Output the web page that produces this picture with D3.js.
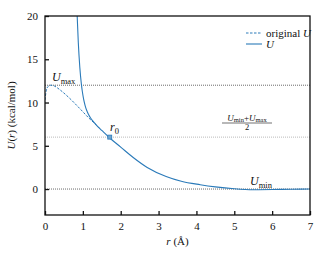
<!DOCTYPE html>
<html><head><meta charset="utf-8">
<script src="https://cdn.jsdelivr.net/npm/d3@7"></script>
<style>
body{margin:0;background:#fff;}
text{font-family:"Liberation Serif","DejaVu Serif",serif;fill:#111;}
</style></head>
<body><svg id="c" width="325" height="260"></svg>
<script>
// data
const origR = [0, 0.03, 0.08, 0.15, 0.25, 0.4, 0.66, 0.92, 1.19, 1.3, 1.45];
const origU = [10.3, 11.3, 11.85, 12.0, 11.9, 11.45, 10.45, 9.3, 8.07, 7.63, 6.98];
const uR = [0.85, 0.88, 0.92, 0.96, 0.985, 1.02, 1.06, 1.1, 1.15, 1.2, 1.25, 1.3, 1.4, 1.5, 1.71, 2.0, 2.33, 2.7, 3.2, 3.6, 4.1, 4.5, 5.0, 5.5, 6.0, 6.5, 7.0];
const uU = [20, 16.9, 14.05, 12.15, 11.3, 10.4, 9.65, 9.1, 8.62, 8.24, 7.94, 7.67, 7.19, 6.77, 5.9, 4.85, 3.65, 2.5, 1.45, 0.9, 0.5, 0.25, 0.03, -0.08, -0.06, -0.02, 0];
const Umax = 12, Umin = 0, r0 = 1.71;
const xTicks = [0,1,2,3,4,5,6,7];
const yTicks = [0,5,10,15,20];

const svg = d3.select("#c");
const L=45, R=310, T=16, B=215;
const x = d3.scaleLinear().domain([0,7]).range([L,R]);
const y = d3.scaleLinear().domain([-3,20]).range([B,T]);
const blue = "#2a7ab9";

svg.append("defs").append("clipPath").attr("id","cp")
  .append("rect").attr("x",L).attr("y",T).attr("width",R-L).attr("height",B-T);

// reference lines
const mid = (Umin+Umax)/2;
[[Umax,"#444"],[mid,"#aaa"],[Umin,"#444"]].forEach(([v,c])=>{
  svg.append("line").attr("x1",L).attr("x2",R).attr("y1",y(v)).attr("y2",y(v))
    .attr("stroke",c).attr("stroke-width",0.8).attr("stroke-dasharray","1,1");
});

const line = d3.line().x(d=>x(d[0])).y(d=>y(d[1])).curve(d3.curveMonotoneX);
const g = svg.append("g").attr("clip-path","url(#cp)");
g.append("path").attr("d", line(origR.map((r,i)=>[r,origU[i]])))
  .attr("fill","none").attr("stroke",blue).attr("stroke-width",1).attr("stroke-dasharray","2.5,1.5");
g.append("path").attr("d", line(uR.map((r,i)=>[r,uU[i]])))
  .attr("fill","none").attr("stroke",blue).attr("stroke-width",1.1);
g.append("rect").attr("x",x(r0)-2).attr("y",y(mid)-2).attr("width",4).attr("height",4)
  .attr("fill","#6fa5cf").attr("stroke",blue).attr("stroke-width",0.8);

// axes
const xa = svg.append("g").attr("transform",`translate(0,${B})`)
  .call(d3.axisBottom(x).tickValues(xTicks).tickSize(-4).tickPadding(7).tickFormat(d3.format("d")));
const ya = svg.append("g").attr("transform",`translate(${L},0)`)
  .call(d3.axisLeft(y).tickValues(yTicks).tickSize(-4).tickPadding(7).tickFormat(d3.format("d")));
[xa,ya].forEach(a=>{
  a.attr("font-family",null);
  a.select(".domain").remove();
  a.selectAll(".tick line").attr("stroke","#111").attr("stroke-width",1.3);
  a.selectAll("text").attr("font-size",11).attr("fill","#222");
});
svg.append("rect").attr("x",L).attr("y",T).attr("width",R-L).attr("height",B-T)
  .attr("fill","none").attr("stroke","#111").attr("stroke-width",1.3);

// axis labels
svg.append("text").attr("x",(L+R)/2).attr("y",245).attr("text-anchor","middle").attr("font-size",11)
  .html('<tspan font-style="italic">r</tspan> (Å)');
svg.append("text").attr("transform",`translate(15,${(T+B)/2}) rotate(-90)`).attr("text-anchor","middle").attr("font-size",11)
  .html('<tspan font-style="italic">U</tspan>(<tspan font-style="italic">r</tspan>) (kcal/mol)');

// annotations
svg.append("text").attr("x",52).attr("y",81).attr("font-size",12)
  .html('<tspan font-style="italic">U</tspan><tspan font-size="8.5" dy="2.5">max</tspan>');
svg.append("text").attr("x",110).attr("y",131).attr("font-size",12)
  .html('<tspan font-style="italic">r</tspan><tspan font-size="8.5" dy="2.5">0</tspan>');
svg.append("text").attr("x",250).attr("y",185).attr("font-size",12)
  .html('<tspan font-style="italic">U</tspan><tspan font-size="8.5" dy="2.5">min</tspan>');
// fraction
svg.append("text").attr("x",247).attr("y",120.5).attr("text-anchor","middle").attr("font-size",9)
  .html('<tspan font-style="italic">U</tspan><tspan font-size="6.5" dy="1.5">min</tspan><tspan dy="-1.5">+</tspan><tspan font-style="italic">U</tspan><tspan font-size="6.5" dy="1.5">max</tspan>');
svg.append("line").attr("x1",222).attr("x2",272).attr("y1",123).attr("y2",123).attr("stroke","#111").attr("stroke-width",0.6);
svg.append("text").attr("x",247).attr("y",130).attr("text-anchor","middle").attr("font-size",8.5).text("2");

// legend
svg.append("line").attr("x1",246).attr("x2",262).attr("y1",33).attr("y2",33)
  .attr("stroke",blue).attr("stroke-width",1).attr("stroke-dasharray","2.5,1.5");
svg.append("text").attr("x",266).attr("y",36.5).attr("font-size",11)
  .html('original <tspan font-style="italic">U</tspan>');
svg.append("line").attr("x1",246).attr("x2",262).attr("y1",44).attr("y2",44)
  .attr("stroke",blue).attr("stroke-width",1.1);
svg.append("text").attr("x",266).attr("y",47.5).attr("font-size",11).attr("font-style","italic").text("U");
</script></body></html>
